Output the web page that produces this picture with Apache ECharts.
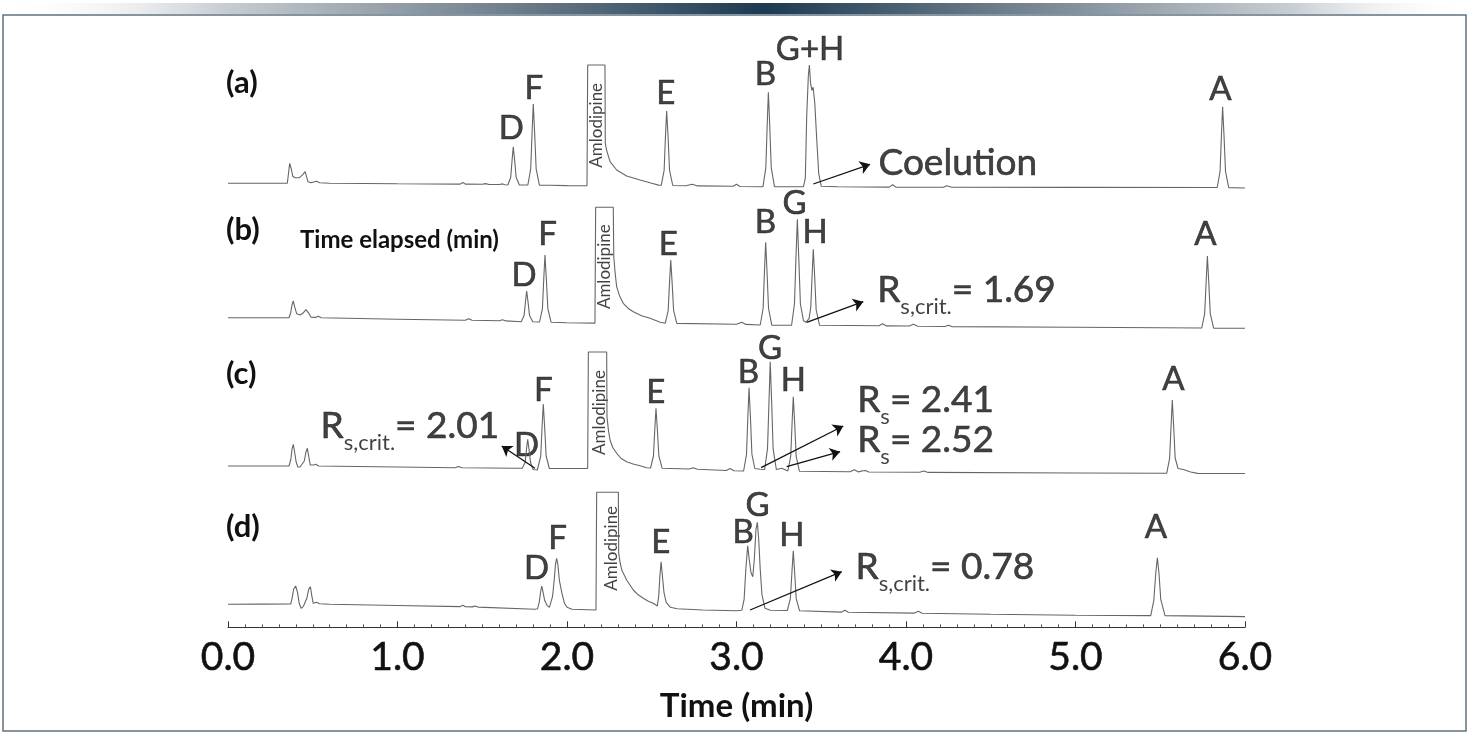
<!DOCTYPE html>
<html>
<head>
<meta charset="utf-8">
<title>Chromatograms (a)-(d)</title>
<script src="https://cdn.jsdelivr.net/npm/echarts@6/dist/echarts.min.js"></script>
<style>
  html, body { margin: 0; padding: 0; background: #fff; }
  #chart { width: 1470px; height: 734px; }
</style>
</head>
<body>
<div id="chart"></div>
<script>
// each trace: [time (min), signal above that trace's starting baseline]
const traceA = [
  [0, 0], [0.2, 0], [0.35, 0], [0.357, 10], [0.364, 20], [0.368, 21], [0.374, 14], [0.382, 7], [0.395, 5.5],
  [0.42, 5.5], [0.44, 8.5], [0.455, 11.6], [0.463, 7], [0.472, 1.5], [0.49, 0.5], [0.51, 1.5], [0.523, 2],
  [0.54, 0.5], [0.6, 0], [1.0, -0.5], [1.37, -0.8], [1.386, 0.8], [1.4, -0.8], [1.5, -1], [1.52, -0.3],
  [1.54, -1.2], [1.6, -1.2], [1.62, -0.6], [1.635, -1.5],
  [1.651, -1.7], [1.668, 6], [1.676, 23.2], [1.683, 36.6], [1.691, 23.2], [1.7, 6], [1.719, -1.7],
  [1.769, -1.7], [1.786, 14.5], [1.794, 51], [1.801, 79.3], [1.809, 51], [1.818, 14.5], [1.837, -1.8],
  [1.9, -2], [2.0, -2.3], [2.118, -2.5],
  [2.122, 118.3], [2.224, 118.3], [2.226, 40], [2.234, 33], [2.254, 21.6], [2.293, 13.3], [2.352, 7.3],
  [2.431, 3.3], [2.5, 0], [2.54, -1.8],
  [2.556, -2], [2.573, 12.9], [2.581, 47.6], [2.588, 72.3], [2.596, 47.6], [2.605, 12.9], [2.624, -2.2],
  [2.7, -2.5], [2.74, -1], [2.77, -2.6], [2.98, -3], [3.0, -1], [3.02, -3.2],
  [3.156, -3.4], [3.173, 15.5], [3.181, 58], [3.188, 91], [3.196, 58], [3.205, 15.5], [3.224, -3.4],
  [3.395, -3.4], [3.406, 5], [3.414, 66], [3.424, 108], [3.43, 118.3], [3.437, 100], [3.445, 93],
  [3.452, 96], [3.457, 96], [3.462, 80], [3.473, 45], [3.485, 10], [3.5, -3],
  [3.6, -3.5], [3.9, -3.8], [3.922, -1.5], [3.94, -3.8], [4.22, -4], [4.24, -2.5], [4.27, -4],
  [5.0, -4.1], [5.836, -4.2],
  [5.853, 12], [5.861, 48.3], [5.868, 76.5], [5.876, 48.3], [5.885, 12], [5.904, -4.3], [6.0, -4.7]
]
const traceB = [
  [0, 0], [0.2, 0], [0.36, 0], [0.37, 5], [0.378, 13], [0.385, 16.7], [0.393, 11], [0.405, 4], [0.425, 2.7],
  [0.445, 5], [0.46, 8], [0.468, 8.7], [0.478, 4], [0.49, 0.5], [0.515, 0.3], [0.533, 1.5], [0.55, 0],
  [1.0, -1.5], [1.4, -2.5], [1.42, -1], [1.44, -2.6], [1.6, -3], [1.62, -2], [1.64, -3.2],
  [1.73, -4], [1.747, 2.1], [1.755, 16], [1.762, 26.7], [1.77, 16], [1.779, 2.1], [1.798, -4],
  [1.838, -4.3], [1.855, 9.1], [1.863, 39.2], [1.87, 62.7], [1.878, 39.2], [1.887, 9.1], [1.906, -4.5],
  [2.0, -5], [2.165, -5.4],
  [2.169, 110.4], [2.273, 110.4], [2.276, 61], [2.284, 45], [2.293, 31], [2.31, 22], [2.332, 14.4],
  [2.36, 9.5], [2.391, 6], [2.44, 2], [2.49, -0.6], [2.55, -4.5],
  [2.58, -5.5], [2.597, 7.1], [2.605, 35.6], [2.612, 57.7], [2.62, 35.6], [2.629, 7.1], [2.648, -5.7],
  [3.0, -6.5], [3.031, -4.5], [3.055, -6.7],
  [3.14, -7.3], [3.157, 9.2], [3.165, 46.5], [3.172, 75.4], [3.18, 46.5], [3.189, 9.2], [3.208, -7.4],
  [3.325, -7.5], [3.342, 13.7], [3.351, 61.4], [3.359, 98.4], [3.367, 61.4], [3.377, 13.7], [3.395, -3],
  [3.41, -4.5], [3.428, -1], [3.438, 10], [3.446, 41.9], [3.453, 68.4], [3.461, 41.9], [3.47, 7.7],
  [3.49, -7.6], [3.84, -8], [3.862, -6], [3.885, -8.2], [4.02, -8.3], [4.043, -6.5], [4.07, -8.5],
  [4.23, -8.8], [4.25, -7.5], [4.27, -8.9], [5.0, -9.6], [5.745, -10.3],
  [5.762, 4.1], [5.771, 36.5], [5.778, 61.7], [5.786, 36.5], [5.795, 4.1], [5.815, -10.4], [6.0, -10.5]
]
const traceC = [
  [0, 0], [0.2, 0], [0.36, 0], [0.37, 6], [0.378, 17], [0.385, 21.7], [0.392, 15], [0.402, 4], [0.412, -1],
  [0.425, -1], [0.45, 5], [0.46, 14], [0.468, 17.7], [0.476, 10], [0.485, 1], [0.494, -0.7], [0.505, 1],
  [0.517, 1.7], [0.535, 0], [1.0, -1], [1.34, -1.8], [1.36, -0.5], [1.38, -1.8], [1.7, -2.3],
  [1.736, -2.3], [1.753, 3.5], [1.761, 16.6], [1.768, 26.7], [1.776, 16.6], [1.785, 3.5], [1.8, -3.5],
  [1.825, -4], [1.845, 10], [1.853, 39.3], [1.86, 62], [1.868, 39.3], [1.877, 10], [1.896, -2.5],
  [2.0, -2.5], [2.122, -2.5],
  [2.126, 114], [2.234, 114], [2.236, 49], [2.245, 35], [2.254, 26], [2.27, 18.5], [2.293, 12.7],
  [2.32, 7.5], [2.352, 4.3], [2.39, 2], [2.431, 0.3], [2.47, -1.7],
  [2.493, -2], [2.51, 10], [2.518, 36.8], [2.525, 57.7], [2.533, 36.8], [2.542, 10], [2.561, -2.2],
  [2.72, -3], [2.745, -1.8], [2.77, -3.2], [2.94, -4.5], [2.962, -2.5], [2.985, -4.8],
  [3.042, -5], [3.059, 11.7], [3.067, 49.4], [3.074, 78.3], [3.082, 49.4], [3.091, 11.7], [3.108, -2.5],
  [3.139, -3.3], [3.166, -3.5], [3.183, 17.3], [3.192, 66.2], [3.199, 104.3], [3.207, 66.2], [3.216, 17.3],
  [3.235, -3.5], [3.267, -2.3], [3.303, -5], [3.32, 9.9], [3.328, 43.3], [3.335, 69.3], [3.343, 43.3],
  [3.352, 9.9], [3.371, -5.2], [3.67, -5.8], [3.695, -3.8], [3.72, -5.9], [3.745, -4.8], [3.76, -4.5],
  [3.78, -6], [4.08, -6.3], [4.106, -5], [4.13, -6.4], [5.0, -7], [5.538, -7.3],
  [5.555, 7.4], [5.564, 40.3], [5.571, 66], [5.579, 40.3], [5.588, 8], [5.605, -2.5], [5.636, -3.5],
  [5.68, -6], [5.72, -7.4], [6.0, -7.5]
]
const traceD = [
  [0, 0], [0.2, 0.2], [0.37, 0.3], [0.378, 6], [0.387, 15], [0.399, 18.3], [0.41, 12], [0.42, 1],
  [0.431, -4], [0.445, -2], [0.465, 6], [0.476, 15], [0.486, 17.6], [0.495, 8], [0.503, 1], [0.513, 1.5],
  [0.523, 2], [0.54, 0.5], [0.6, 0], [1.0, -1.2], [1.37, -2.3], [1.386, -1], [1.4, -2.4], [1.44, -2.6],
  [1.457, -1.8], [1.475, -2.8], [1.811, -5],
  [1.826, -4.5], [1.836, 2], [1.845, 13], [1.851, 18.3], [1.858, 13], [1.868, 4], [1.882, -1], [1.896, -3],
  [1.905, -1], [1.915, 8], [1.925, 25], [1.932, 40], [1.939, 46], [1.946, 40], [1.955, 24], [1.969, 12],
  [1.985, 1], [2.0, -3], [2.03, -5], [2.171, -5.7],
  [2.175, 112], [2.303, 112], [2.305, 51], [2.313, 42], [2.323, 34.3], [2.352, 24.3], [2.391, 14.3],
  [2.42, 9.5], [2.45, 6], [2.48, 3], [2.509, 1], [2.533, -1.7],
  [2.541, 8], [2.548, 28], [2.555, 42.6], [2.562, 30], [2.572, 12], [2.585, 2], [2.61, -3], [2.65, -4.5],
  [2.8, -5.7], [3.0, -6.4],
  [3.031, -6], [3.045, 5], [3.055, 35], [3.066, 58.6], [3.075, 45], [3.085, 32], [3.096, 27.6], [3.105, 45],
  [3.115, 75], [3.123, 82], [3.131, 65], [3.14, 35], [3.15, 10], [3.168, -4], [3.2, -6], [3.3, -6.2],
  [3.318, 6], [3.327, 32], [3.335, 53.6], [3.343, 32], [3.352, 6], [3.372, -6.5],
  [3.62, -7.8], [3.64, -6], [3.66, -8], [4.05, -8.8], [4.073, -7], [4.095, -9], [4.5, -10], [5.0, -11],
  [5.444, -11.3], [5.462, 4], [5.474, 32], [5.483, 46.6], [5.492, 32], [5.503, 5], [5.528, -11.3], [6.0, -12.3]
]

// peak names: [name, time, height]
const labelsA = [['D', 1.671, 55], ['F', 1.805, 95], ['E', 2.583, 90], ['B', 3.171, 109], ['G+H', 3.434, 134], ['A', 5.855, 94]]
const labelsB = [['D', 1.746, 42], ['F', 1.885, 83.5], ['E', 2.598, 73.5], ['B', 3.171, 95], ['G', 3.342, 114.4], ['H', 3.463, 85], ['A', 5.767, 83]]
const labelsC = [['D', 1.762, 21], ['F', 1.86, 76], ['E', 2.524, 73.5], ['B', 3.07, 93.5], ['G', 3.198, 117.7], ['H', 3.335, 86], ['A', 5.577, 87]]
const labelsD = [['D', 1.821, 36], ['F', 1.944, 66], ['E', 2.553, 62], ['B', 3.04, 72], ['G', 3.124, 99.3], ['H', 3.326, 69.3], ['A', 5.474, 76.5]]

// truncated amlodipine peak label: [time, height]
const amloA = [[2.177, 58]]
const amloB = [[2.224, 51]]
const amloC = [[2.189, 53.5]]
const amloD = [[2.265, 56]]

// notes: [time, height, main, subscript, rest]
const notesA = [[3.835, 20.3, 'Coelution', '', '']]
const notesB = [[3.827, 27.7, 'R', 's,crit.', '= 1.69']]
const notesC = [[0.543, 40, 'R', 's,crit.', '= 2.01'], [3.709, 66, 'R', 's', '= 2.41'], [3.709, 26, 'R', 's', '= 2.52']]
const notesD = [[3.699, 37.6, 'R', 's,crit.', '= 0.78']]

// arrows: [fromTime, fromHeight, toTime, toHeight]
const arrowsA = [[3.453, -0.7, 3.788, 19]]
const arrowsB = [[3.414, -4.6, 3.748, 16]]
const arrowsC = [[1.811, -2.3, 1.615, 20], [3.145, -1.7, 3.63, 40], [3.296, -0.7, 3.611, 14.3]]
const arrowsD = [[3.08, -5.7, 3.621, 32.6]]

const panelNames = ['(a)', '(b)', '(c)', '(d)']
const xTicks = [0, 1, 2, 3, 4, 5, 6]

const panels = [
  { trace: traceA, labels: labelsA, amlo: amloA, notes: notesA, arrows: arrowsA },
  { trace: traceB, labels: labelsB, amlo: amloB, notes: notesB, arrows: arrowsB },
  { trace: traceC, labels: labelsC, amlo: amloC, notes: notesC, arrows: arrowsC },
  { trace: traceD, labels: labelsD, amlo: amloD, notes: notesD, arrows: arrowsD }
]

const FONT = 'Lato, "Noto Sans", sans-serif'
const INK = '#111'
const gridTops = [33.3, 167.7, 316, 454.3]
const panelLabelY = [83, 230, 374, 527]
// a hairline outline makes Lato a touch heavier, closer to the original lettering
const heavier = { textBorderColor: INK, textBorderWidth: 0.6 }

const grid = []
const xAxis = []
const yAxis = []
const series = []

panels.forEach((p, i) => {
  const last = i === panels.length - 1
  grid.push({ left: 228, right: 225, top: gridTops[i], height: 173 })
  xAxis.push({
    gridIndex: i,
    type: 'value',
    min: xTicks[0],
    max: xTicks[xTicks.length - 1],
    interval: 1,
    show: last,
    axisLine: { show: true, onZero: false, lineStyle: { color: '#333', width: 1 } },
    axisTick: { show: true, inside: true, length: 6, lineStyle: { color: '#333' } },
    minorTick: { show: true, splitNumber: 10, length: 3, lineStyle: { color: '#555' } },
    splitLine: { show: false },
    axisLabel: {
      margin: 11,
      fontSize: 39,
      fontFamily: FONT,
      color: INK,
      ...heavier,
      formatter: (v) => v.toFixed(1)
    },
    name: 'Time (min)',
    nameLocation: 'middle',
    nameGap: 63,
    nameTextStyle: { fontSize: 33, fontWeight: 'bold', fontFamily: FONT, color: INK }
  })
  yAxis.push({ gridIndex: i, type: 'value', min: -23, max: 150, show: false })

  series.push({
    type: 'line',
    xAxisIndex: i,
    yAxisIndex: i,
    data: p.trace,
    showSymbol: false,
    silent: true,
    clip: false,
    lineStyle: { color: '#666', width: 1.1 },
    markLine: {
      silent: true,
      symbol: ['none', 'arrow'],
      symbolSize: 10,
      label: { show: false },
      lineStyle: { color: '#111', width: 1.3, type: 'solid' },
      emphasis: { disabled: true },
      data: p.arrows.map(a => [{ coord: [a[0], a[1]] }, { coord: [a[2], a[3]] }])
    }
  })
  // peak letters
  series.push({
    type: 'scatter',
    xAxisIndex: i,
    yAxisIndex: i,
    clip: false,
    silent: true,
    symbolSize: 1,
    itemStyle: { color: 'transparent' },
    data: p.labels.map(l => ({ name: l[0], value: [l[1], l[2]] })),
    label: {
      show: true,
      position: 'inside',
      formatter: '{b}',
      fontSize: 33,
      fontFamily: FONT,
      color: INK,
      ...heavier
    }
  })
  // amlodipine box caption
  series.push({
    type: 'scatter',
    xAxisIndex: i,
    yAxisIndex: i,
    clip: false,
    silent: true,
    symbolSize: 1,
    itemStyle: { color: 'transparent' },
    data: p.amlo.map(a => ({ value: a })),
    label: {
      show: true,
      position: 'inside',
      rotate: 90,
      formatter: 'Amlodipine',
      fontSize: 17,
      fontFamily: FONT,
      color: INK
    }
  })
  // resolution notes
  series.push({
    type: 'scatter',
    xAxisIndex: i,
    yAxisIndex: i,
    clip: false,
    silent: true,
    symbolSize: 1,
    itemStyle: { color: 'transparent' },
    data: p.notes.map(n => ({ value: [n[0], n[1]], main: n[2], sub: n[3], rest: n[4] })),
    label: {
      show: true,
      position: 'right',
      distance: 0,
      formatter: (prm) => {
        const d = prm.data
        if (!d.sub) return '{big|' + d.main + '}'
        return '{big|' + d.main + '}{sub|' + d.sub + '}{big|' + d.rest + '}'
      },
      rich: {
        big: { fontSize: 37, fontFamily: FONT, color: INK, lineHeight: 56, verticalAlign: 'middle', ...heavier },
        sub: { fontSize: 22, fontFamily: FONT, color: INK, lineHeight: 22, verticalAlign: 'bottom' }
      }
    }
  })
})

const graphic = [
  {
    type: 'rect',
    silent: true,
    shape: { x: 0, y: 3, width: 1470, height: 11 },
    style: {
      fill: new echarts.graphic.LinearGradient(0, 0, 1, 0, [
        { offset: 0, color: 'rgba(255,255,255,0)' },
        { offset: 0.15, color: '#c9ced3' },
        { offset: 0.35, color: '#6d7d8a' },
        { offset: 0.52, color: '#1c3a51' },
        { offset: 0.68, color: '#6d7d8a' },
        { offset: 0.88, color: '#c9ced3' },
        { offset: 1, color: 'rgba(255,255,255,0)' }
      ])
    }
  },
  {
    type: 'rect',
    silent: true,
    shape: { x: 3, y: 15, width: 1463, height: 716 },
    style: { fill: 'none', stroke: '#5d7283', lineWidth: 1.5 }
  },
  {
    type: 'text',
    silent: true,
    style: {
      x: 300, y: 240, text: 'Time elapsed (min)',
      font: 'bold 24px ' + FONT, fill: INK,
      textAlign: 'left', textVerticalAlign: 'middle'
    }
  }
]
panelNames.forEach((n, i) => {
  graphic.push({
    type: 'text',
    silent: true,
    style: {
      x: 226, y: panelLabelY[i], text: n,
      font: 'bold 31px ' + FONT, fill: INK,
      textAlign: 'left', textVerticalAlign: 'middle'
    }
  })
})

const myChart = echarts.init(document.getElementById('chart'))
myChart.setOption({
  animation: false,
  backgroundColor: '#fff',
  grid,
  xAxis,
  yAxis,
  series,
  graphic
})
</script>
</body>
</html>
